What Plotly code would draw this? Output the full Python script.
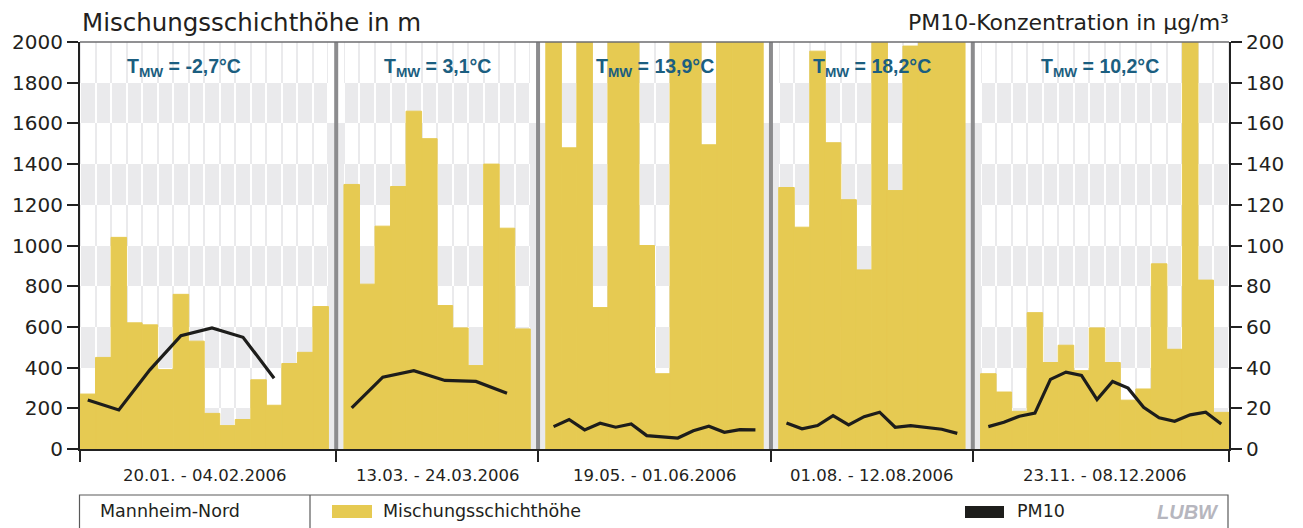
import plotly.graph_objects as go

# --- data -----------------------------------------------------------------
periods = ["20.01. - 04.02.2006", "13.03. - 24.03.2006", "19.05. - 01.06.2006",
           "01.08. - 12.08.2006", "23.11. - 08.12.2006"]
t_mw = ["-2,7", "3,1", "13,9", "18,2", "10,2"]

# daily mixing-layer height in m (days above 2000 m run off the scale)
mh_jan = [270, 450, 1040, 620, 610, 390, 760, 530, 175, 115, 145, 340, 215, 420, 475, 700]
mh_mar = [1300, 810, 1095, 1290, 1660, 1525, 705, 595, 410, 1400, 1085, 590]
mh_may = [2250, 1480, 2600, 695, 2400, 2150, 1000, 370, 2500, 2300, 1495, 2700, 2450, 2200]
mh_aug = [1285, 1090, 1955, 1505, 1225, 880, 2350, 1270, 1980, 2600, 2200, 2450]
mh_nov = [370, 280, 185, 670, 425, 510, 385, 595, 425, 240, 295, 910, 490, 2300, 830, 180]

# PM10 in µg/m³ (None = no measurement that day)
pm_jan = [24.1, None, 19.2, None, 38.9, None, 55.7, None, 59.5, None, 54.9, None, 34.8, None, None, None]
pm_mar = [20.2, None, 35.3, None, 38.5, None, 33.7, None, 33.2, None, 27.4, None]
pm_may = [11.0, 14.5, 9.4, 12.7, 10.7, 12.3, 6.6, 6.1, 5.4, 9.0, 11.2, 8.2, 9.5, 9.4]
pm_aug = [12.8, 9.9, 11.5, 16.4, 11.8, 15.9, 18.1, 10.7, 11.5, 10.7, 9.7, 7.7]
pm_nov = [11.0, 13.1, 16.1, 17.6, 34.2, 37.8, 36.2, 24.3, 33.2, 29.9, 20.5, 15.3, 13.6, 16.8, 18.1, 12.3]

mh_series = [mh_jan, mh_mar, mh_may, mh_aug, mh_nov]
pm_series = [pm_jan, pm_mar, pm_may, pm_aug, pm_nov]

left_ticks = list(range(0, 2001, 200))
right_ticks = list(range(0, 201, 20))

station = "Mannheim-Nord"
mh_name = "Mischungsschichthöhe"
pm_name = "PM10"

# --- styling --------------------------------------------------------------
YELLOW = "#e6ca52"
LINE_BLACK = "#1d1d1b"
BAND_GREY = "#eaeaec"
DIVIDER = "#8c8c8e"
TEXT = "#231f20"
TITLE_BLUE = "#1b5e80"
FONT = "DejaVu Sans"

W, H = 1303, 528
ML, MR, MT, MB = 80, 74, 42, 79
PW, PH = W - ML - MR, H - MT - MB


def fx(px):
    return (px - ML) / PW


def fy(py):
    return (H - MB - py) / PH


# --- day slots: one slot per day, one empty slot between periods ----------
starts = []
s = 0
for vals in mh_series:
    starts.append(s)
    s += len(vals) + 1
n_slots = s - 1
gap_slots = [st - 1 for st in starts[1:]]

bar_x, bar_y = [], []
pm_x, pm_y = [], []
for st, mh, pm in zip(starts, mh_series, pm_series):
    for i, v in enumerate(mh):
        bar_x.append(st + i + 0.5)
        bar_y.append(v)
    for i, v in enumerate(pm):
        if v is not None:
            pm_x.append(st + i + 0.5)
            pm_y.append(v)
    pm_x.append(None)
    pm_y.append(None)

# background cells: alternating 200 m bands, one cell per day
band_step = 200
band_y = [b + band_step / 2 for b in left_ticks[:-1]]
slot_x = [j + 0.5 for j in range(n_slots)]
z_front, z_back = [], []
for bi in range(len(band_y)):
    grey = 1 if bi % 2 == 0 else 0
    row_f, row_b = [], []
    for j in range(n_slots):
        if j in gap_slots:
            g = 1 if band_y[bi] < 1600 else 0
            row_f.append(g)
            row_b.append(g)
        else:
            row_f.append(grey)
            row_b.append(1 - grey)
    z_front.append(row_f)
    z_back.append(row_b)

band_scale = [[0, "#ffffff"], [1, BAND_GREY]]

fig = go.Figure()
fig.add_trace(go.Heatmap(x=slot_x, y=band_y, z=z_back, colorscale=band_scale,
                         zmin=0, zmax=1, showscale=False, hoverinfo="skip"))
fig.add_trace(go.Heatmap(x=slot_x, y=band_y, z=z_front, colorscale=band_scale,
                         zmin=0, zmax=1, showscale=False, hoverinfo="skip",
                         xgap=2, ygap=0))
fig.add_trace(go.Bar(x=bar_x, y=bar_y, width=1, marker_color=YELLOW,
                     marker_line=dict(color=YELLOW, width=1),
                     name=mh_name, showlegend=False))
fig.add_trace(go.Scatter(x=pm_x, y=pm_y, mode="lines", yaxis="y2",
                         line=dict(color=LINE_BLACK, width=3.2),
                         connectgaps=False, name=pm_name, showlegend=False))

shapes = []
# period dividers
for g in gap_slots:
    shapes.append(dict(type="line", xref="x", yref="paper", x0=g + 0.5, x1=g + 0.5,
                       y0=0, y1=1, line=dict(color=DIVIDER, width=4), layer="above"))
# top frame line
shapes.append(dict(type="line", xref="paper", yref="paper", x0=0, x1=1, y0=1, y1=1,
                   line=dict(color="#6d6d6f", width=1.5), layer="above"))
# key box underneath
shapes.append(dict(type="rect", xref="paper", yref="paper", x0=fx(79.5), x1=fx(1228),
                   y0=fy(495), y1=fy(545), line=dict(color="#5a5a5a", width=1.2),
                   fillcolor="rgba(0,0,0,0)"))
shapes.append(dict(type="line", xref="paper", yref="paper", x0=fx(310), x1=fx(310),
                   y0=fy(495), y1=fy(545), line=dict(color="#5a5a5a", width=1.2)))
shapes.append(dict(type="rect", xref="paper", yref="paper", x0=fx(332), x1=fx(372),
                   y0=fy(505), y1=fy(518), fillcolor=YELLOW, line_width=0))
shapes.append(dict(type="rect", xref="paper", yref="paper", x0=fx(965), x1=fx(1004),
                   y0=fy(506), y1=fy(518), fillcolor=LINE_BLACK, line_width=0))

annotations = []
label_shift = [-20, 0, 0, 0, -5]
for st, mh, t, p, sh in zip(starts, mh_series, t_mw, periods, label_shift):
    centre = st + len(mh) / 2
    annotations.append(dict(x=centre, y=1875, xref="x", yref="y", xshift=sh,
                            text=f"<b>T<sub>MW</sub> = {t}°C</b>", showarrow=False,
                            font=dict(family="Liberation Sans", size=19.5, color=TITLE_BLUE)))
    annotations.append(dict(x=centre, y=fy(475), xref="x", yref="paper", text=p,
                            showarrow=False, yanchor="middle",
                            font=dict(family=FONT, size=16.5, color=TEXT)))

annotations += [
    dict(x=0, y=fy(23), xref="paper", yref="paper", xanchor="left", yanchor="middle",
         text="Mischungsschichthöhe in m", showarrow=False,
         font=dict(family=FONT, size=24.5, color=TEXT)),
    dict(x=fx(1231), y=fy(23), xref="paper", yref="paper", xanchor="right", yanchor="middle",
         text="PM10-Konzentration in µg/m³", showarrow=False,
         font=dict(family=FONT, size=22, color=TEXT)),
    dict(x=fx(98), y=fy(511), xref="paper", yref="paper", xanchor="left", yanchor="middle",
         text=station, showarrow=False, font=dict(family=FONT, size=17.5, color=TEXT)),
    dict(x=fx(381), y=fy(511), xref="paper", yref="paper", xanchor="left", yanchor="middle",
         text=mh_name, showarrow=False, font=dict(family=FONT, size=17.5, color=TEXT)),
    dict(x=fx(1015), y=fy(511), xref="paper", yref="paper", xanchor="left", yanchor="middle",
         text=pm_name, showarrow=False, font=dict(family=FONT, size=17.5, color=TEXT)),
    dict(x=fx(1221), y=fy(512), xref="paper", yref="paper", xanchor="right", yanchor="middle",
         text="<b><i>LUBW</i></b>", showarrow=False,
         font=dict(family="Liberation Sans", size=20, color="#b6b6be")),
]

boundaries = [0] + [g + 0.5 for g in gap_slots] + [n_slots]

fig.update_layout(
    width=W, height=H,
    margin=dict(l=ML, r=MR, t=MT, b=MB, pad=0),
    paper_bgcolor="white", plot_bgcolor="white",
    showlegend=False,
    barmode="overlay",
    font=dict(family=FONT, color=TEXT),
    xaxis=dict(range=[0, n_slots], tickvals=boundaries, showticklabels=False,
               ticks="outside", ticklen=11, tickwidth=2, tickcolor="#222",
               showline=True, linewidth=2, linecolor="#222", showgrid=False,
               zeroline=False, fixedrange=True),
    yaxis=dict(range=[0, 2000], tickvals=left_ticks, ticks="outside", ticklen=11,
               tickwidth=2, tickcolor="#222", showline=True, linewidth=2,
               linecolor="#222", showgrid=False, zeroline=False,
               tickfont=dict(family=FONT, size=20, color=TEXT), fixedrange=True),
    yaxis2=dict(range=[0, 200], tickvals=right_ticks, overlaying="y", side="right",
                ticks="outside", ticklen=11, tickwidth=2, tickcolor="#222",
                showline=True, linewidth=2, linecolor="#222", showgrid=False,
                zeroline=False, tickfont=dict(family=FONT, size=20, color=TEXT),
                fixedrange=True),
    shapes=shapes,
    annotations=annotations,
)

fig.write_html("out.html", config={"displayModeBar": False})
